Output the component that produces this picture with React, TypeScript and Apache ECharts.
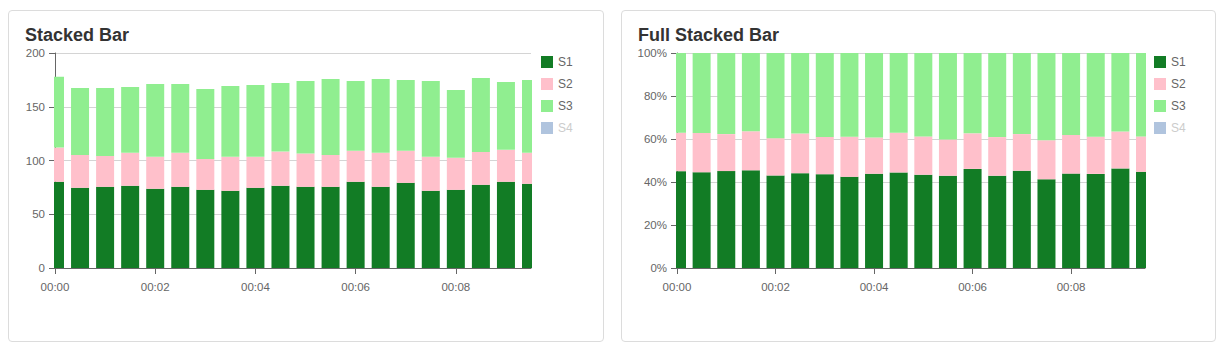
import React, { useEffect, useRef } from "react";
import * as echarts from "echarts";

const times = [
  "00:00:00", "00:00:30", "00:01:00", "00:01:30", "00:02:00",
  "00:02:30", "00:03:00", "00:03:30", "00:04:00", "00:04:30",
  "00:05:00", "00:05:30", "00:06:00", "00:06:30", "00:07:00",
  "00:07:30", "00:08:00", "00:08:30", "00:09:00", "00:09:30",
];
const s1 = [80.2, 74.6, 75.5, 76.5, 73.7, 75.5, 72.7, 71.8, 74.6, 76.5, 75.5, 75.5, 80.2, 75.5, 79.2, 71.8, 72.7, 77.4, 80.2, 78.3];
const s2 = [31.8, 30.6, 28.8, 30.6, 29.7, 31.6, 28.8, 31.6, 28.8, 31.8, 31.0, 29.7, 28.8, 31.6, 29.8, 31.6, 29.8, 30.6, 29.7, 28.8];
const s3 = [66.0, 62.3, 63.2, 61.3, 67.8, 64.1, 65.1, 65.9, 66.9, 63.8, 67.5, 70.7, 65.0, 68.8, 66.0, 70.6, 63.1, 68.8, 63.2, 67.9];
const s4: number[] = [];
const seriesNames = ["S1", "S2", "S3", "S4"];
const seriesColors = ["#127c25", "#ffc0cb", "#90ee90", "#b0c4de"];

const FONT = "'Liberation Sans', Arial, sans-serif";
const BAR_W = 18;

function buildOption(title: string, full: boolean) {
  const raw = [s1, s2, s3, s4];
  const totals = s1.map((_, i) => s1[i] + s2[i] + s3[i]);
  const scaled = raw.map((arr) => arr.map((v, i) => (full ? (v / totals[i]) * 100 : v)));
  // stacked [index, base, top] triples
  const stacked = scaled.map((arr, si) =>
    arr.map((v, i) => {
      let base = 0;
      for (let k = 0; k < si; k++) base += scaled[k][i] || 0;
      return [i, base, base + v];
    })
  );
  const renderItem = (_params: any, api: any) => {
    const x = api.value(0);
    const p0 = api.coord([x, api.value(1)]);
    const p1 = api.coord([x, api.value(2)]);
    return {
      type: "rect",
      shape: { x: p0[0] - BAR_W / 2, y: p1[1], width: BAR_W, height: p0[1] - p1[1] },
      style: api.style(),
    };
  };
  return {
    animation: false,
    textStyle: { fontFamily: FONT },
    title: {
      text: title,
      left: 16,
      top: 15,
      padding: 0,
      textStyle: { fontSize: 18, fontWeight: "bold", color: "#333", fontFamily: FONT },
    },
    legend: {
      orient: "vertical",
      left: 532,
      top: 45,
      padding: 0,
      itemWidth: 12,
      itemHeight: 12,
      itemGap: 10,
      icon: "rect",
      textStyle: { color: "#666", fontSize: 12, fontFamily: FONT },
      data: seriesNames.map((n, i) =>
        i === 3 ? { name: n, textStyle: { color: "#cccccc" } } : { name: n }
      ),
    },
    grid: { left: full ? 55 : 46, right: full ? 70 : 72, top: 42, bottom: 73 },
    xAxis: {
      type: "category",
      data: times,
      boundaryGap: false,
      axisLine: { show: true, lineStyle: { color: "#666" } },
      axisTick: { show: true, length: 6, interval: 3, lineStyle: { color: "#666" } },
      axisLabel: {
        interval: 3,
        formatter: (v: string) => v.slice(0, 5),
        color: "#666",
        fontSize: 11.5,
        margin: 13,
        fontFamily: FONT,
      },
      splitLine: { show: false },
    },
    yAxis: {
      type: "value",
      min: 0,
      max: full ? 100 : 200,
      interval: full ? 20 : 50,
      axisLine: { show: true, lineStyle: { color: "#666" } },
      axisTick: { show: true, length: 6, lineStyle: { color: "#666" } },
      axisLabel: {
        formatter: full ? "{value}%" : "{value}",
        color: "#666",
        fontSize: 11.5,
        margin: 10,
        fontFamily: FONT,
      },
      splitLine: { show: true, lineStyle: { color: "#d4d4d4" } },
    },
    series: seriesNames.map((n, i) => ({
      name: n,
      type: "custom",
      clip: true,
      z: 2,
      lineStyle: { width: 0.001 },
      itemStyle: { color: seriesColors[i] },
      encode: { x: 0, y: [1, 2] },
      renderItem,
      data: stacked[i],
    })),
  };
}

function Card({ left, width, title, full }: { left: number; width: number; title: string; full: boolean }) {
  const ref = useRef<HTMLDivElement>(null);
  useEffect(() => {
    if (!ref.current) return;
    const chart = echarts.init(ref.current, undefined, { renderer: "svg" });
    chart.setOption(buildOption(title, full) as any);
    return () => chart.dispose();
  }, [title, full]);
  return (
    <div
      style={{
        position: "absolute",
        left,
        top: 2,
        width,
        height: 332,
        boxSizing: "border-box",
        border: "1px solid #dcdcdc",
        borderRadius: 4,
        background: "#fff",
      }}
    >
      <div ref={ref} style={{ width: width - 2, height: 330 }} />
    </div>
  );
}

export default function App() {
  return (
    <div style={{ position: "relative", width: 1214, height: 340 }}>
      <Card left={0} width={596} title="Stacked Bar" full={false} />
      <Card left={613} width={595} title="Full Stacked Bar" full={true} />
    </div>
  );
}
